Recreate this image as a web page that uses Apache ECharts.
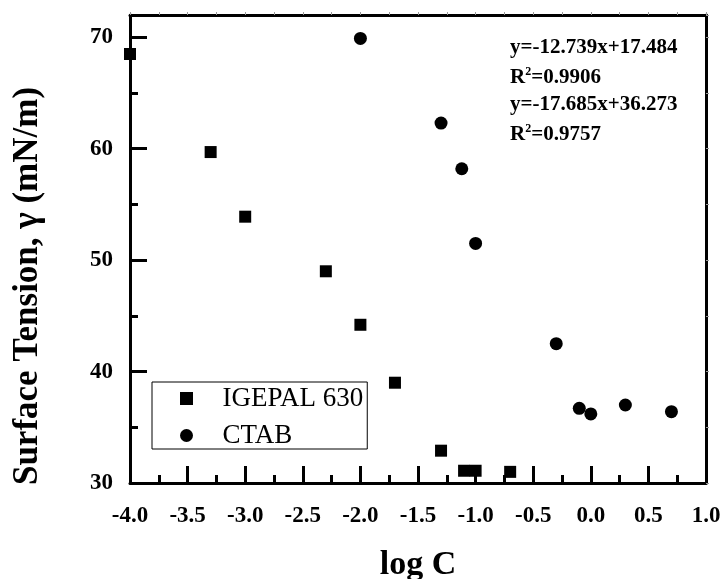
<!DOCTYPE html>
<html>
<head>
<meta charset="utf-8">
<script src="https://cdn.jsdelivr.net/npm/echarts@6/dist/echarts.min.js"></script>
<style>html,body{margin:0;padding:0;background:#fff}#c{width:722px;height:579px}</style>
</head>
<body>
<div id="c"></div>
<script>
var seriesNames = ['IGEPAL 630', 'CTAB'];
var igepalX = [-4.0, -3.3, -3.0, -2.3, -2.0, -1.7, -1.3, -1.1, -1.0, -0.7];
var igepalY = [68.5, 59.7, 53.9, 49.0, 44.2, 39.0, 32.9, 31.1, 31.1, 31.0];
var ctabX = [-2.0, -1.3, -1.12, -1.0, -0.3, -0.1, 0.0, 0.3, 0.7];
var ctabY = [69.9, 62.3, 58.2, 51.5, 42.5, 36.7, 36.2, 37.0, 36.4];
var xMin = -4, xMax = 1, xStep = 0.5;
var yMin = 30, yMax = 72, yStep = 10;
var fitLines = [
  ['y=-12.739x+17.484'],
  ['R', '2', '=0.9906'],
  ['y=-17.685x+36.273'],
  ['R', '2', '=0.9757']
];
var xName = 'log C';
var yName = 'Surface Tension, \u03b3 (mN/m)';

function zip(a, b) { return a.map(function (v, i) { return [v, b[i]]; }); }

var serif = '"Liberation Serif", "Times New Roman", serif';
var chart = echarts.init(document.getElementById('c'));

var graphics = fitLines.map(function (parts, i) {
  var txt = parts.length === 1 ? '{b|' + parts[0] + '}' : '{b|' + parts[0] + '}{s|' + parts[1] + '}{b|' + parts[2] + '}';
  return {
    type: 'text', left: 510, top: 37 + i * 28.5, z: 10,
    style: {
      text: txt,
      rich: {
        b: { fontFamily: serif, fontWeight: 'bold', fontSize: 21, lineHeight: 24, fill: '#000' },
        s: { fontFamily: serif, fontWeight: 'bold', fontSize: 12, lineHeight: 24, verticalAlign: 'top', fill: '#000' }
      }
    }
  };
});
graphics.push({
  type: 'text', x: 28, y: 286, rotation: Math.PI / 2, z: 10,
  style: {
    text: yName, fontFamily: serif, fontWeight: 'bold', fontSize: 35, fill: '#000',
    align: 'center', verticalAlign: 'middle'
  }
});

var gridPos = { left: 130, top: 15, width: 576, height: 468, containLabel: false, outerBoundsMode: 'none' };
var squarePath = 'path://M0,0L10,0L10,10L0,10Z';

chart.setOption({
  animation: false,
  backgroundColor: '#fff',
  grid: gridPos,
  legend: {
    orient: 'vertical', left: 152, top: 382,
    data: [{ name: seriesNames[0], icon: squarePath }, { name: seriesNames[1], icon: 'circle' }],
    symbolKeepAspect: true,
    itemWidth: 62, itemHeight: 13, itemGap: 10,
    padding: [3, 4, 0, 28],
    borderColor: '#000', borderWidth: 1, backgroundColor: '#fff',
    itemStyle: { opacity: 1 },
    textStyle: { fontFamily: serif, fontSize: 27, lineHeight: 26, color: '#000' }
  },
  xAxis: [{
    type: 'value', position: 'bottom', min: xMin, max: xMax, interval: xStep,
    name: xName, nameLocation: 'middle', nameGap: 65,
    nameTextStyle: { fontFamily: serif, fontWeight: 'bold', fontSize: 34, color: '#000' },
    axisLine: { show: true, onZero: false, lineStyle: { color: '#000', width: 3 } },
    axisTick: { show: true, inside: true, length: 17, lineStyle: { color: '#000', width: 3 } },
    minorTick: { show: true, splitNumber: 2, length: 8, lineStyle: { color: '#000', width: 3 } },
    axisLabel: { margin: 22, fontFamily: serif, fontWeight: 'bold', fontSize: 23, color: '#000',
      formatter: function (v) { return v.toFixed(1); } },
    splitLine: { show: false }
  }, {
    type: 'value', position: 'top', min: xMin, max: xMax, interval: xStep / 2,
    axisLine: { show: true, onZero: false, lineStyle: { color: '#000', width: 3 } },
    axisTick: { show: true, inside: false, length: 3, lineStyle: { color: '#999', width: 1 } },
    axisLabel: { show: false }, splitLine: { show: false }
  }],
  yAxis: [{
    type: 'value', position: 'left', min: yMin, max: yMax, interval: yStep,
    axisLine: { show: true, onZero: false, lineStyle: { color: '#000', width: 3 } },
    axisTick: { show: true, inside: true, length: 17, lineStyle: { color: '#000', width: 3 } },
    axisLabel: { margin: 17, showMaxLabel: false, fontFamily: serif, fontWeight: 'bold', fontSize: 23, color: '#000' },
    splitLine: { show: false }
  }, {
    type: 'value', position: 'left', min: yMin, max: yMax, interval: yStep / 2,
    axisLine: { show: false, onZero: false },
    axisTick: { show: true, inside: true, length: 8, lineStyle: { color: '#000', width: 3 } },
    axisLabel: { show: false }, splitLine: { show: false }
  }, {
    type: 'value', position: 'right', min: yMin, max: yMax, interval: yStep / 2,
    axisLine: { show: true, onZero: false, lineStyle: { color: '#000', width: 3 } },
    axisTick: { show: true, inside: false, length: 3, lineStyle: { color: '#999', width: 1 } },
    axisLabel: { show: false }, splitLine: { show: false }
  }],
  series: [{
    name: seriesNames[0], type: 'scatter', xAxisIndex: 0, yAxisIndex: 0,
    symbol: 'rect', symbolSize: 12, itemStyle: { color: '#000', opacity: 1 },
    data: zip(igepalX, igepalY)
  }, {
    name: seriesNames[1], type: 'scatter', xAxisIndex: 0, yAxisIndex: 0,
    symbol: 'circle', symbolSize: 13, itemStyle: { color: '#000', opacity: 1 },
    data: zip(ctabX, ctabY)
  }],
  graphic: graphics
});
</script>
</body>
</html>
